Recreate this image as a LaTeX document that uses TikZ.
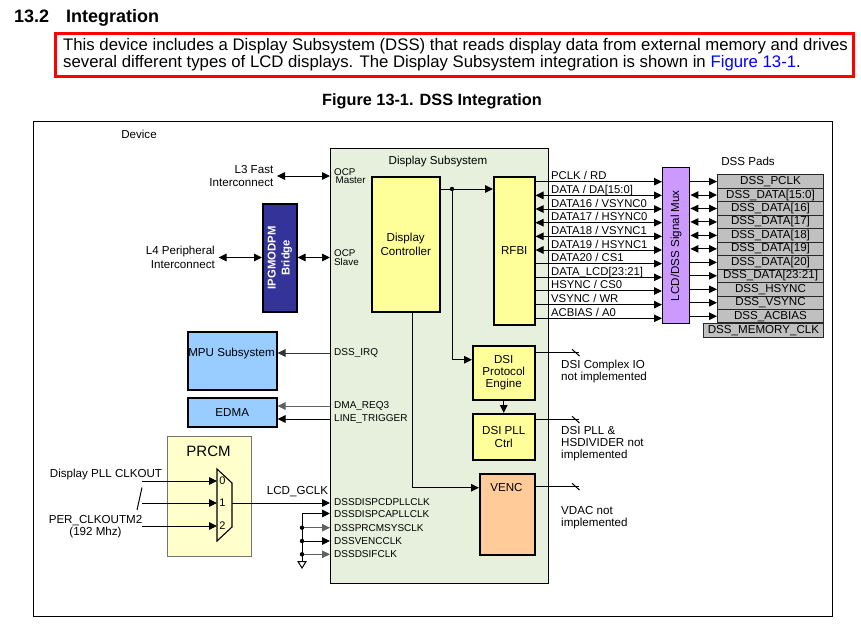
\documentclass[tikz,border=0pt]{standalone}
\usepackage{fontspec}
\setmainfont{Liberation Sans}
\usetikzlibrary{arrows.meta}
\definecolor{dssgreen}{HTML}{E6F0DC}
\definecolor{boxyellow}{HTML}{FFFF99}
\definecolor{prcmyellow}{HTML}{FFFFCC}
\definecolor{mpublue}{HTML}{99CCFF}
\definecolor{bridgeblue}{HTML}{333399}
\definecolor{muxpurple}{HTML}{CC99FF}
\definecolor{padgray}{HTML}{C0C0C0}
\definecolor{vencorange}{HTML}{FFCC99}
\definecolor{linkblue}{HTML}{0000FF}
\definecolor{redframe}{HTML}{FF0000}
\definecolor{wiregray}{HTML}{606060}
\newcommand{\myfsA}{\fontsize{11.6}{13.5}\selectfont}
\newcommand{\myfsB}{\fontsize{11.3}{13}\selectfont}
\newcommand{\myfsC}{\fontsize{10}{12}\selectfont}
\newcommand{\myfsD}{\fontsize{9.8}{8.6}\selectfont}
\newcommand{\myfsE}{\fontsize{9.8}{9}\selectfont}
\begin{document}
\begin{tikzpicture}[x=1pt,y=-1pt,
  >={Triangle[length=8pt,width=7.5pt]},
  conn/.style={line width=1pt},
  box/.style={draw=black,line width=1.5pt,inner sep=0pt,anchor=north west},
  lbl/.style={font=\myfsA,inner sep=0pt,align=center},
  sig/.style={font=\myfsB,inner sep=0pt,anchor=base west},
  clk/.style={font=\myfsC,inner sep=0pt,anchor=west},
  padbox/.style={draw=black!85,line width=1pt,fill=padgray,inner sep=0pt,anchor=north west,minimum height=13.47pt,font=\myfsA},
]
\useasboundingbox (0,0) rectangle (861,632);
\fill[white] (0,0) rectangle (861,632);

% ---------- heading ----------
\node[font=\fontsize{18}{18}\selectfont\bfseries,anchor=base west,inner sep=0pt] (secnum) at (14,22) {13.2};
\node[font=\fontsize{18}{18}\selectfont\bfseries,anchor=base west,inner sep=0pt] (sectitle) at (66,22) {Integration};
\draw[redframe,line width=3pt] (55,33) rectangle (853,76);
\node[font=\fontsize{16.75}{17}\selectfont,anchor=base west,inner sep=0pt] (introA) at (63,50) {This device includes a Display Subsystem (DSS) that reads display data from external memory and drives};
\node[font=\fontsize{16.75}{17}\selectfont,anchor=base west,inner sep=0pt] (introB) at (63,67) {several different types of LCD displays. The Display Subsystem integration is shown in \textcolor{linkblue}{Figure 13-1}.};
\node[font=\fontsize{16.3}{17}\selectfont\bfseries,anchor=base,inner sep=0pt] (caption) at (432,105) {Figure 13-1. DSS Integration};

% ---------- device frame ----------
\node[box,line width=1.4pt,minimum width=799pt,minimum height=495pt] (device) at (33,121) {};
\node[lbl] (devlbl) at (139,134) {Device};

% ---------- display subsystem ----------
\node[box,line width=1.4pt,fill=dssgreen,minimum width=218pt,minimum height=435pt] (dss) at (330,148) {};
\node[lbl] (dsslbl) at (438,161) {Display Subsystem};

\node[box,fill=boxyellow,minimum width=68pt,minimum height=135pt,font=\myfsA,align=center] (dc) at (371,176) {Display\\Controller};
\node[box,fill=boxyellow,minimum width=41pt,minimum height=148pt,font=\myfsA] (rfbi) at (493,176) {RFBI};
\node[box,fill=boxyellow,minimum width=62pt,minimum height=54pt,font=\fontsize{11.6}{12}\selectfont,align=center] (dsipe) at (472,345) {DSI\\Protocol\\Engine};
\node[box,fill=boxyellow,minimum width=62pt,minimum height=46pt,font=\fontsize{11.6}{12.5}\selectfont,align=center] (dsipll) at (472,413) {DSI PLL\\Ctrl};
\node[box,fill=vencorange,minimum width=55pt,minimum height=81pt] (venc) at (479,473) {};
\node[lbl] (venclbl) at (506.5,487) {VENC};

% internal connections
\coordinate (jn) at (452,189);
\draw[conn,->] (dc.east |- jn) -- (rfbi.west |- jn);
\fill (jn) circle (2.2);
\draw[conn,->] (jn) |- ([yshift=13pt]dsipe.west);
\draw[conn,->] (dsipe.south) -- (dsipll.north);
\draw[conn,->] ([xshift=7pt]dc.south) |- ([yshift=26.5pt]venc.west);

% not implemented stubs
\draw[conn] ([yshift=20pt]dsipe.east) -- ++(43,0) coordinate (nc1);
\draw[conn] (nc1) ++(-6.5,-3.5) -- ++(7.5,6.8);
\draw[conn] ([yshift=17pt]dsipll.east) -- ++(43,0) coordinate (nc2);
\draw[conn] (nc2) ++(-6.5,-3.5) -- ++(7.5,6.8);
\draw[conn] ([yshift=27.5pt]venc.east) -- ++(43,0) coordinate (nc3);
\draw[conn] (nc3) ++(-6.5,-3.5) -- ++(7.5,6.8);
\node[font=\fontsize{11.6}{12}\selectfont,inner sep=0pt,anchor=west,align=left] (nc1lbl) at (561,371) {DSI Complex IO\\not implemented};
\node[font=\fontsize{11.6}{12}\selectfont,inner sep=0pt,anchor=west,align=left] (nc2lbl) at (561,444) {DSI PLL \&\\HSDIVIDER not\\implemented};
\node[font=\fontsize{11.6}{11.5}\selectfont,inner sep=0pt,anchor=west,align=left] (nc3lbl) at (561,517.5) {VDAC not\\implemented};

% ---------- interconnects ----------
\node[lbl,align=right,anchor=east] (l3) at (273.5,176) {L3 Fast\\Interconnect};
\draw[conn,<->] ([xshift=3.5pt]l3.east) -- (l3.east -| dss.west);
\node[font=\myfsD,inner sep=0pt,anchor=west,align=left] (ocpm) at (334,176) {OCP\\\hspace*{1.5pt}Master};

\node[box,fill=bridgeblue,minimum width=34pt,minimum height=108pt] (bridge) at (262,203) {};
\node[font=\fontsize{11.3}{14}\selectfont\bfseries,text=white,rotate=90,align=center,inner sep=0pt] (bridgelbl) at (bridge.center) {IPGMODPM\\Bridge};
\node[lbl,align=right,anchor=east] (l4) at (215,257.5) {L4 Peripheral\\Interconnect};
\draw[conn,<->] ([xshift=3.5pt]l4.east) -- (l4.east -| bridge.west);
\draw[conn,<->] (bridge.east |- l4.east) -- (l4.east -| dss.west);
\node[font=\myfsE,inner sep=0pt,anchor=west,align=left] (ocps) at (334,257.5) {OCP\\Slave};

% ---------- MPU / EDMA ----------
\node[box,fill=mpublue,minimum width=89pt,minimum height=58pt] (mpu) at (187,331) {};
\node[lbl] (mpulbl) at (231.5,353) {MPU Subsystem};
\node[box,fill=mpublue,minimum width=89pt,minimum height=29pt,font=\myfsA] (edma) at (187,397) {EDMA};
\coordinate (irq) at (0,353);
\coordinate (dreq) at (0,406);
\coordinate (ltrig) at (0,419);
\draw[conn,->,draw=black!80] (dss.west |- irq) -- (mpu.east |- irq);
\draw[conn,->,draw=wiregray] (dss.west |- dreq) -- (edma.east |- dreq);
\draw[conn,->] (dss.west |- ltrig) -- (edma.east |- ltrig);
\node[clk] (irqlbl) at (334,352.5) {DSS\_IRQ};
\node[clk] (dreqlbl) at (334,406) {DMA\_REQ3};
\node[clk] (ltriglbl) at (334,419) {LINE\_TRIGGER};

% ---------- PRCM ----------
\node[box,draw=black!55,line width=1.2pt,fill=prcmyellow,minimum width=84pt,minimum height=120pt] (prcm) at (167,436) {};
\node[font=\fontsize{15}{15}\selectfont,inner sep=0pt] (prcmlbl) at (208.5,451) {PRCM};
\draw[line width=1.1pt,fill=prcmyellow] (217,469) -- (232,483) -- (232,527) -- (217,541) -- cycle;
\coordinate (muxL) at (217,503);
\coordinate (muxout) at (232,503);
\node[font=\fontsize{11}{11}\selectfont,inner sep=0pt] (sel0) at (222.5,481) {0};
\node[font=\fontsize{11}{11}\selectfont,inner sep=0pt] (sel1) at (222.5,503) {1};
\node[font=\fontsize{11}{11}\selectfont,inner sep=0pt] (sel2) at (222.5,526) {2};
\coordinate (in0) at (142,481);
\coordinate (in1) at (142,503);
\coordinate (in2) at (142,526);
\draw[conn,->] (in0) -- (in0 -| muxL);
\draw[conn,->] (in1) -- (in1 -| muxL);
\draw[conn,->] (in2) -- (in2 -| muxL);
\draw[conn] (142,487.5) -- (137,510);
\node[lbl] (plllbl) at (106,474) {Display PLL CLKOUT};
\node[lbl,font=\fontsize{11.6}{11.5}\selectfont] (perlbl) at (95.5,526.5) {PER\_CLKOUTM2\\(192 Mhz)};

% clocks into DSS
\draw[conn,->] (muxout) -- (muxout -| dss.west);
\node[lbl] (gclk) at (297.5,492) {LCD\_GCLK};
\coordinate (ck2) at (302,513.5);
\coordinate (ck3) at (302,527.7);
\coordinate (ck4) at (302,541);
\coordinate (ck5) at (302,554.3);
\coordinate (gnd) at (302,561.5);
\draw[conn] (ck2) -- (gnd);
\draw[conn] (298,561.5) -- (306,561.5) -- (302,568) -- cycle;
\draw[conn,->] (ck2) -- (ck2 -| dss.west);
\draw[conn,->,draw=wiregray] (ck3) -- (ck3 -| dss.west);
\draw[conn,->] (ck4) -- (ck4 -| dss.west);
\draw[conn,->,draw=wiregray] (ck5) -- (ck5 -| dss.west);
\fill (ck3) circle (2.2);
\fill (ck4) circle (2.2);
\fill (ck5) circle (2.2);
\node[clk] (c1lbl) at (334,502) {DSSDISPCDPLLCLK};
\node[clk] (c2lbl) at (334,514) {DSSDISPCAPLLCLK};
\node[clk] (c3lbl) at (334,527.7) {DSSPRCMSYSCLK};
\node[clk] (c4lbl) at (334,541) {DSSVENCCLK};
\node[clk] (c5lbl) at (334,554.3) {DSSDSIFCLK};

% ---------- signal mux ----------
\node[box,line width=1.4pt,fill=muxpurple,minimum width=27pt,minimum height=156pt] (mux) at (662,167) {};
\node[font=\myfsA,rotate=90,inner sep=0pt] (muxlbl) at (mux.center) {LCD/DSS Signal Mux};

\foreach \t [count=\i] in {{PCLK / RD},{DATA / DA[15:0]},{DATA16 / VSYNC0},{DATA17 / HSYNC0},{DATA18 / VSYNC1},{DATA19 / HSYNC1},{DATA20 / CS1},{DATA\_LCD[23:21]},{HSYNC / CS0},{VSYNC / WR},{ACBIAS / A0}} {
  \pgfmathsetmacro{\yy}{181.7+13.66*(\i-1)}
  \coordinate (s\i) at (0,\yy);
  \node[sig] (sl\i) at (551,\yy-2) {\t};
}
\foreach \i in {1,7,8,9,10,11} \draw[conn,->] (rfbi.east |- s\i) -- (mux.west |- s\i);
\foreach \i in {2,...,6} \draw[conn,<->] (rfbi.east |- s\i) -- (mux.west |- s\i);

% ---------- pads ----------
\node[lbl] (padslbl) at (748,161) {DSS Pads};
\foreach \t [count=\i] in {{DSS\_PCLK},{DSS\_DATA[15:0]},{DSS\_DATA[16]},{DSS\_DATA[17]},{DSS\_DATA[18]},{DSS\_DATA[19]},{DSS\_DATA[20]},{DSS\_DATA[23:21]},{DSS\_HSYNC},{DSS\_VSYNC},{DSS\_ACBIAS}} {
  \pgfmathsetmacro{\yy}{174.3+13.47*(\i-1)}
  \node[padbox,minimum width=106pt] (pad\i) at (717,\yy) {\t};
}
\node[padbox,minimum width=120pt] (pad12) at (703,323.3) {DSS\_MEMORY\_CLK};
\foreach \i in {1,7,8,9,10,11} \draw[conn,->] (mux.east |- pad\i.west) -- (pad\i.west);
\foreach \i in {2,...,6} \draw[conn,<->] (mux.east |- pad\i.west) -- (pad\i.west);
\end{tikzpicture}
\end{document}
